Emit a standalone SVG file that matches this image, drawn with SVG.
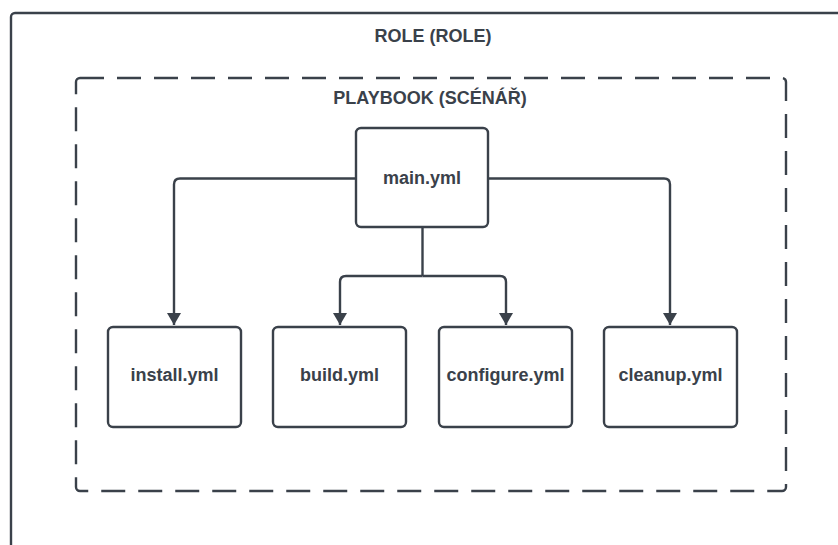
<svg xmlns="http://www.w3.org/2000/svg" width="838" height="545" viewBox="0 0 838 545">
<defs>
<style>
.box{fill:#ffffff;stroke:#3a414a;stroke-width:2.4}
.dash{fill:none;stroke:#3a414a;stroke-width:2.4;stroke-dasharray:24 13}
.lbl{font-family:"Liberation Sans",Arial,sans-serif;font-weight:bold;font-size:18px;fill:#3a414a;text-anchor:middle}
.edge{fill:none;stroke:#3a414a;stroke-width:2.4}
</style>
<marker id="arr" viewBox="0 0 12 14" refX="12" refY="7" markerWidth="12" markerHeight="14" markerUnits="userSpaceOnUse" orient="auto">
<path d="M0,0 L12,7 L0,14 Z" fill="#3a414a"/>
</marker>
</defs>
<rect width="838" height="545" fill="#ffffff"/>
<g id="role">
<rect class="box" x="11" y="13" width="840" height="545" rx="4"/>
<text class="lbl" x="433" y="42">ROLE (ROLE)</text>
</g>
<g id="playbook">
<rect class="dash" x="76" y="78" width="710" height="413" rx="4"/>
<text class="lbl" x="430" y="104">PLAYBOOK (SCÉNÁŘ)</text>
</g>
<g id="connectors">
<path class="edge" d="M356,178.5 L180,178.5 Q174,178.5 174,184.5 L174,325" marker-end="url(#arr)"/>
<path class="edge" d="M488,178.5 L664,178.5 Q670,178.5 670,184.5 L670,325" marker-end="url(#arr)"/>
<path class="edge" d="M422.5,227 L422.5,276"/>
<path class="edge" d="M422.5,276 L346,276 Q340,276 340,282 L340,325" marker-end="url(#arr)"/>
<path class="edge" d="M422.5,276 L500,276 Q506,276 506,282 L506,325" marker-end="url(#arr)"/>
</g>
<g id="main">
<rect class="box" x="356" y="128" width="132" height="99" rx="5"/>
<text class="lbl" x="422" y="184">main.yml</text>
</g>
<g id="install">
<rect class="box" x="108" y="327" width="133" height="100" rx="5"/>
<text class="lbl" x="174.5" y="381">install.yml</text>
</g>
<g id="build">
<rect class="box" x="273" y="327" width="133" height="100" rx="5"/>
<text class="lbl" x="339.5" y="381">build.yml</text>
</g>
<g id="configure">
<rect class="box" x="439" y="327" width="133" height="100" rx="5"/>
<text class="lbl" x="505.5" y="381">configure.yml</text>
</g>
<g id="cleanup">
<rect class="box" x="604" y="327" width="133" height="100" rx="5"/>
<text class="lbl" x="670.5" y="381">cleanup.yml</text>
</g>
</svg>
